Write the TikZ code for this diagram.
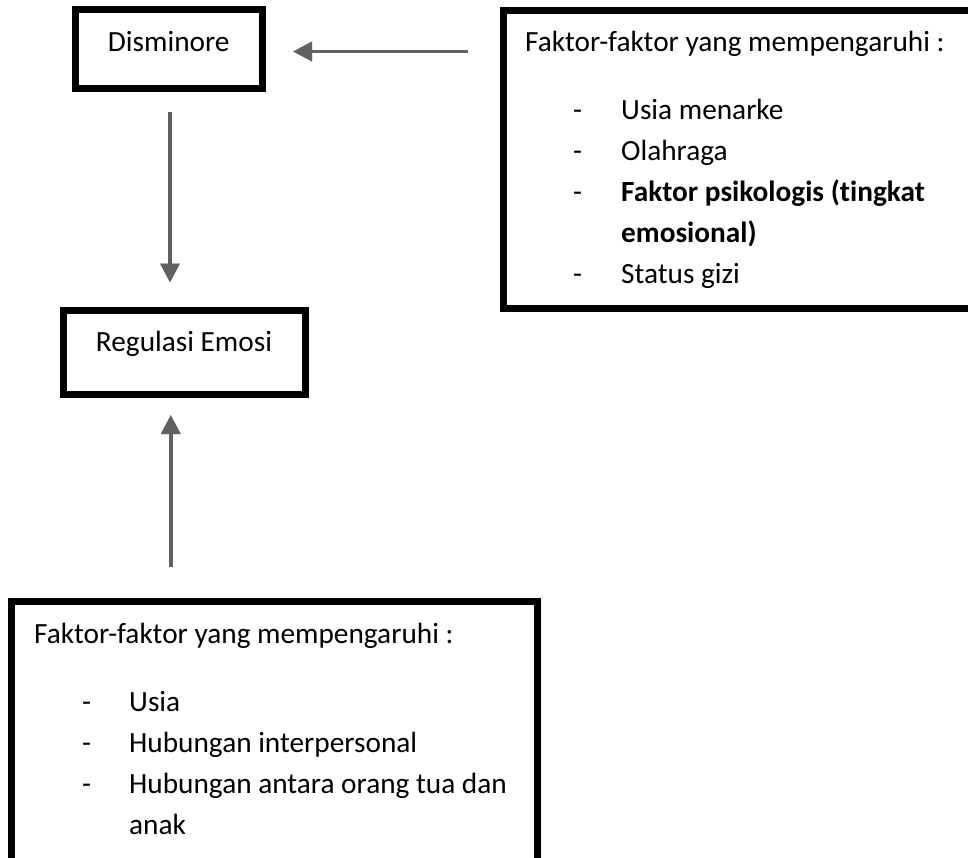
\documentclass[tikz,border=0pt]{standalone}
\usepackage{fontspec}
\setmainfont{Carlito}[Ligatures={NoCommon}]
\usetikzlibrary{arrows.meta,calc}
\begin{document}
\begin{tikzpicture}[x=1pt,y=-1pt,
  box/.style={draw=black, line width=7pt, rectangle, inner sep=0pt, outer sep=0pt},
  big/.style={font=\fontsize{29.3pt}{41pt}\selectfont},
  lbl/.style={big, inner sep=0pt, anchor=base west},
  arrmain/.style={draw=black!62, line width=3.5pt, -{Triangle[length=19pt,width=19pt]}},
  arrshadow/.style={draw=black!30, line width=3.5pt, -{Triangle[length=19pt,width=19pt]}, xshift=2pt, yshift=-2pt}]
\useasboundingbox (0,0) rectangle (968,857);
\clip (0,0) rectangle (968,857);

% boxes
\node[box, big, minimum width=187.5pt, minimum height=79pt, text height=22pt, text depth=18pt] (dis) at (168.75,49) {Disminore};
\node[box, big, minimum width=242pt, minimum height=84pt, text height=19pt, text depth=21pt] (reg) at (184,352.5) {Regulasi Emosi};
\node[box, minimum width=496.5pt, minimum height=298.5pt] (rb) at (751.75,159.25) {};
\node[box, minimum width=525.5pt, minimum height=260.5pt] (bb) at (274.25,731.75) {};

% right box text
\node[lbl] (rh) at (525,51) {Faktor-faktor yang mempengaruhi :};
\node[lbl] (rd1) at (573,119) {-};
\node[lbl] (ri1) at (621,119) {Usia menarke};
\node[lbl] (rd2) at (573,160) {-};
\node[lbl] (ri2) at (621,160) {Olahraga};
\node[lbl] (rd3) at (573,201) {-};
\node[lbl, font=\fontsize{29.3pt}{41pt}\selectfont\bfseries] (ri3) at (621,201) {Faktor psikologis (tingkat};
\node[lbl, font=\fontsize{29.3pt}{41pt}\selectfont\bfseries] (ri3b) at (621,242) {emosional)};
\node[lbl] (rd4) at (573,283) {-};
\node[lbl] (ri4) at (621,283) {Status gizi};

% bottom box text
\node[lbl] (bh) at (34,643) {Faktor-faktor yang mempengaruhi :};
\node[lbl] (bd1) at (82,711) {-};
\node[lbl] (bi1) at (129,711) {Usia};
\node[lbl] (bd2) at (82,752) {-};
\node[lbl] (bi2) at (129,752) {Hubungan interpersonal};
\node[lbl] (bd3) at (82,793) {-};
\node[lbl] (bi3) at (129,793) {Hubungan antara orang tua dan};
\node[lbl] (bi3b) at (129,834) {anak};

% arrows
\foreach \s in {arrshadow,arrmain}{
  \draw[\s] ($(rb.west |- dis.center)+(-35.5,2.5)$) -- ($(dis.east)+(30.5,2.5)$);
  \draw[\s] ($(dis.south)+(1.25,23.5)$) -- ($(reg.north -| dis.south)+(1.25,-28)$);
  \draw[\s] ($(bb.north -| dis.south)+(2,-34.5)$) -- ($(reg.south -| dis.south)+(2,20.5)$);
}
\end{tikzpicture}
\end{document}
